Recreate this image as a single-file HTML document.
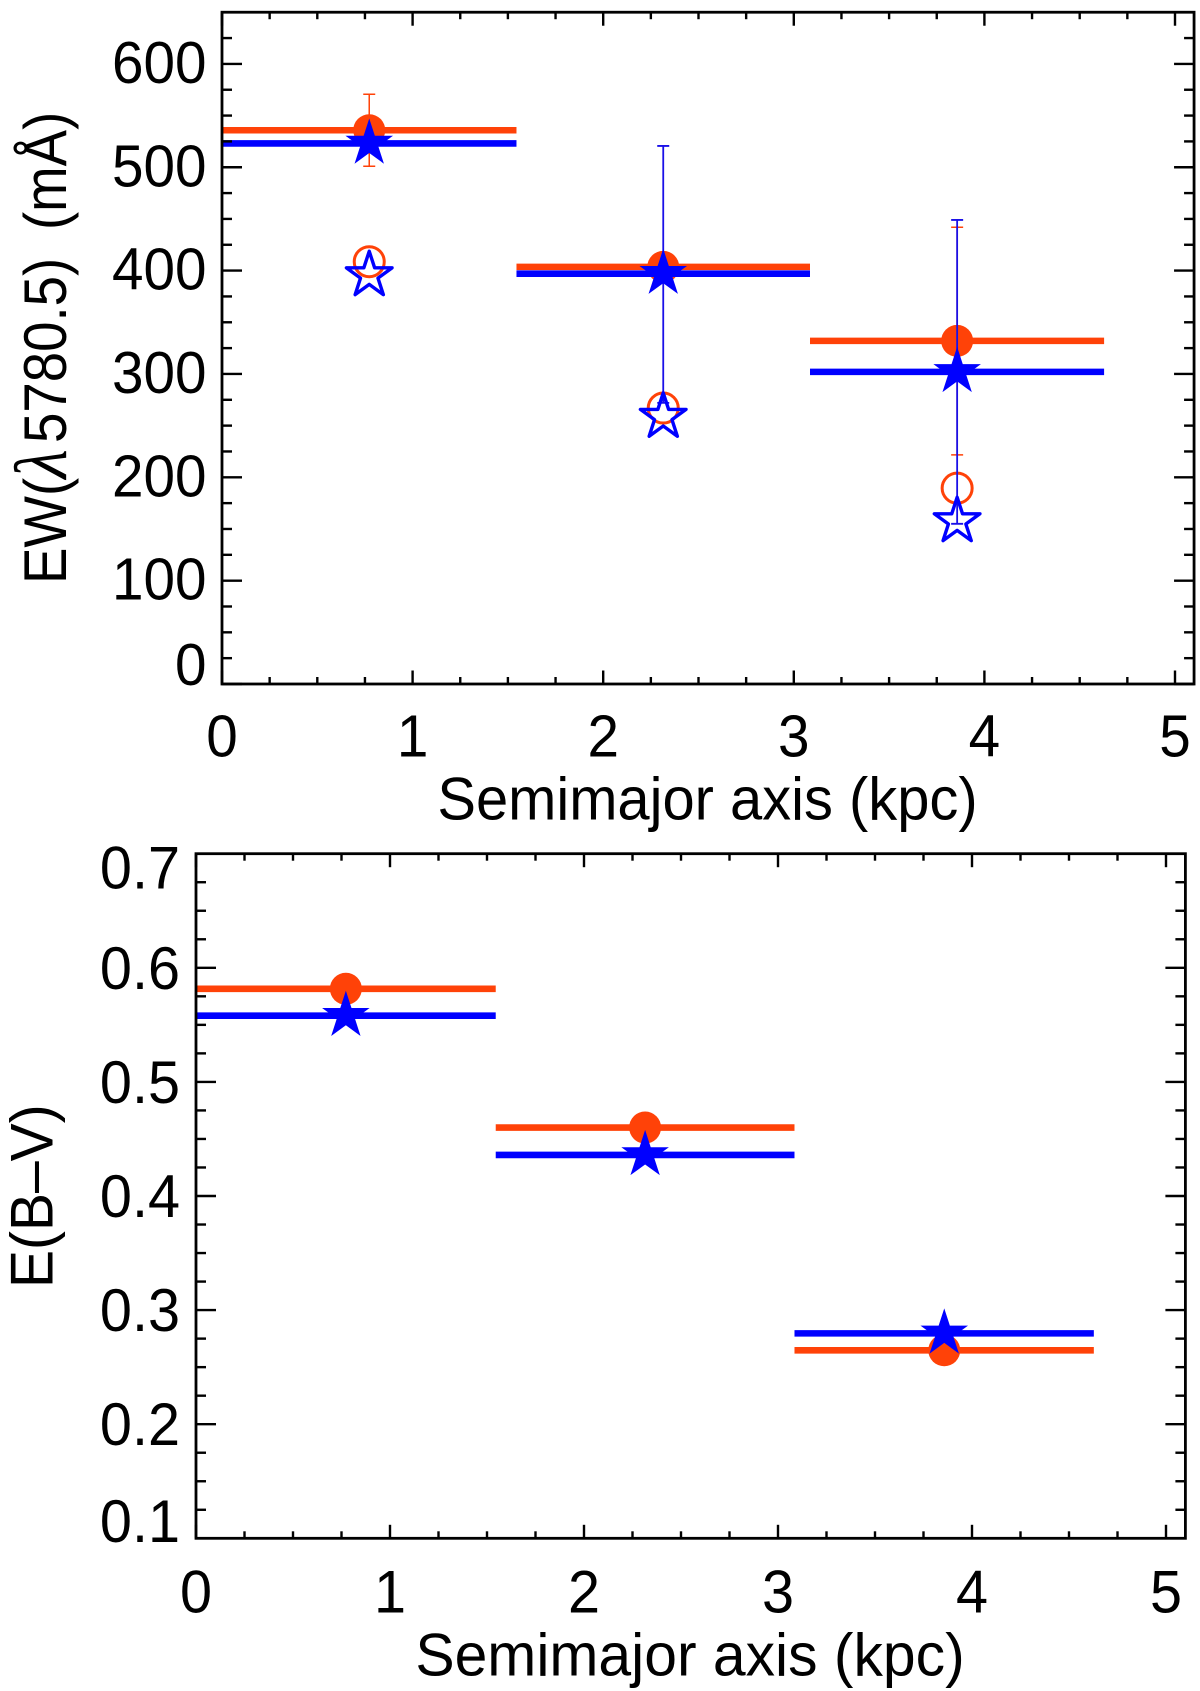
<!DOCTYPE html>
<html lang="en">
<head>
<meta charset="utf-8">
<title>EW and E(B-V) versus semimajor axis</title>
<style>
html,body{margin:0;padding:0;background:#fff;}
svg{display:block;}
text{font-family:"Liberation Sans",Arial,sans-serif;fill:#000;}
</style>
</head>
<body>
<svg id="fig" xmlns="http://www.w3.org/2000/svg" width="1200" height="1691" viewBox="0 0 1200 1691">
  <rect x="0" y="0" width="1200" height="1691" fill="#ffffff"/>
  <g id="top-panel"></g>
  <g id="bottom-panel"></g>
  <text transform="translate(707.5 819.5) scale(.965 1)" font-size="60" text-anchor="middle">Semimajor axis (kpc)</text>
  <text transform="translate(66 584) rotate(-90) scale(.91 1)" font-size="60">EW(<tspan x="116" font-family="Liberation Serif" font-style="italic" font-size="74">λ</tspan><tspan x="155">5780.5)</tspan><tspan x="389">(mÅ)</tspan></text>
  <text transform="translate(690 1675.5) scale(.981 1)" font-size="60" text-anchor="middle">Semimajor axis (kpc)</text>
  <text transform="translate(52.5 1288) rotate(-90) scale(.95 1)" font-size="60">E(B–V)</text>
</svg>
<script>
// Shared x data (kpc)
const binCenters = [0.7725, 2.315, 3.857];
const binLow = [0, 1.545, 3.085];
const binHigh = [1.545, 3.085, 4.628];
const xTickValues = [0, 1, 2, 3, 4, 5];
const xTickLabels = ['0', '1', '2', '3', '4', '5'];

// Upper panel: EW(5780.5) in mA
const ewRedFilled = [535.8, 403.6, 332];
const ewBlueFilled = [523, 397, 302];
const ewRedOpen = [408.6, 267, 189.5];
const ewBlueOpen = [395.5, 258.5, 157.5];
const ewRedErrHigh = [570.6, null, 442];
const ewRedErrLow = [501, null, 221.7];
const ewBlueErrHigh = [null, 520.6, 449];
const ewBlueErrLow = [null, 272, 155];
const ewTickValues = [0, 100, 200, 300, 400, 500, 600];
const ewTickLabels = ['0', '100', '200', '300', '400', '500', '600'];

// Lower panel: E(B-V)
const ebvRedFilled = [0.5816, 0.46, 0.2648];
const ebvBlueFilled = [0.558, 0.436, 0.2796];
const ebvTickValues = [0.1, 0.2, 0.3, 0.4, 0.5, 0.6, 0.7];
const ebvTickLabels = ['0.1', '0.2', '0.3', '0.4', '0.5', '0.6', '0.7'];

const RED = '#ff4208';
const BLUE = '#0000ff';
const SVGNS = 'http://www.w3.org/2000/svg';

function make(parent, tag, attrs) {
  const el = document.createElementNS(SVGNS, tag);
  for (const k in attrs) el.setAttribute(k, attrs[k]);
  parent.appendChild(el);
  return el;
}

function starPoints(cx, cy, R) {
  const r = R * 0.382;
  const pts = [];
  for (let i = 0; i < 10; i++) {
    const a = -Math.PI / 2 + i * Math.PI / 5;
    const rad = i % 2 === 0 ? R : r;
    pts.push((cx + rad * Math.cos(a)).toFixed(2) + ',' + (cy + rad * Math.sin(a)).toFixed(2));
  }
  return pts.join(' ');
}

function drawPanel(p) {
  const g = p.group;
  const sx = v => p.left + (v - p.xMin) * p.xScale;
  const sy = v => p.bottom - (v - p.yMin) * p.yScale;
  const right = sx(p.xMax);
  const top = sy(p.yMax);

  // horizontal bin bars (red), circles, red error bars
  p.red.forEach((v, i) => {
    const bar = make(g, 'line', {x1: sx(binLow[i]), x2: sx(binHigh[i]), y1: sy(v), y2: sy(v), stroke: RED, 'stroke-width': 6.6});
    
    
  });
  p.red.forEach((v, i) => {
    const dot = make(g, 'circle', {cx: sx(binCenters[i]), cy: sy(v), r: 16, fill: RED});
    
    
  });
  (p.redOpen || []).forEach((v, i) => {
    const ring = make(g, 'circle', {cx: sx(binCenters[i]), cy: sy(v), r: 15, fill: 'none', stroke: RED, 'stroke-width': 3});
    
    
  });
  (p.redHigh || []).forEach((hi, i) => {
    if (hi === null) return;
    const x = sx(binCenters[i]);
    const err = make(g, 'path', {
      d: 'M' + (x - 6) + ' ' + sy(hi) + 'H' + (x + 6) + 'M' + x + ' ' + sy(hi) + 'V' + sy(p.redLow[i]) + 'M' + (x - 6) + ' ' + sy(p.redLow[i]) + 'H' + (x + 6),
      fill: 'none', stroke: RED, 'stroke-width': 1.5
    });
    
    
  });

  // blue bars, error bars and stars
  p.blue.forEach((v, i) => {
    const bar = make(g, 'line', {x1: sx(binLow[i]), x2: sx(binHigh[i]), y1: sy(v), y2: sy(v), stroke: BLUE, 'stroke-width': 6.6});
    
    
  });
  (p.blueHigh || []).forEach((hi, i) => {
    if (hi === null) return;
    const x = sx(binCenters[i]);
    const err = make(g, 'path', {
      d: 'M' + (x - 6) + ' ' + sy(hi) + 'H' + (x + 6) + 'M' + x + ' ' + sy(hi) + 'V' + sy(p.blueLow[i]) + 'M' + (x - 6) + ' ' + sy(p.blueLow[i]) + 'H' + (x + 6),
      fill: 'none', stroke: '#1a10e8', 'stroke-width': 1.8
    });
    
    
  });
  p.blue.forEach((v, i) => {
    const star = make(g, 'polygon', {points: starPoints(sx(binCenters[i]), sy(v), 25), fill: BLUE});
    
    
  });
  (p.blueOpen || []).forEach((v, i) => {
    const star = make(g, 'polygon', {points: starPoints(sx(binCenters[i]), sy(v), 24), fill: 'none', stroke: BLUE, 'stroke-width': 3.4, 'stroke-linejoin': 'round'});
    
    
  });

  // x axis ticks, bottom and top
  const nx = Math.round((p.xMax - p.xMin) / 0.25);
  for (let i = 0; i <= nx; i++) {
    const v = p.xMin + i * 0.25;
    const len = i % 4 === 0 ? 13.5 : 7;
    const tb = make(g, 'line', {x1: sx(v), x2: sx(v), y1: p.bottom, y2: p.bottom - len, stroke: '#000', 'stroke-width': 2.4});
    
    
    const tt = make(g, 'line', {x1: sx(v), x2: sx(v), y1: top, y2: top + len, stroke: '#000', 'stroke-width': 2.4});
    
    
  }

  // y axis ticks, left and right
  const ny = Math.round((p.yMax - p.yMin) / p.yMinor);
  for (let i = 0; i <= ny; i++) {
    const v = p.yMin + i * p.yMinor;
    const len = i % 4 === 0 ? 20 : 10;
    const tl = make(g, 'line', {x1: p.left, x2: p.left + len, y1: sy(v), y2: sy(v), stroke: '#000', 'stroke-width': 2.4});
    
    
    const tr = make(g, 'line', {x1: right, x2: right - len, y1: sy(v), y2: sy(v), stroke: '#000', 'stroke-width': 2.4});
    
    
  }

  // frame
  const frame = make(g, 'rect', {x: p.left, y: top, width: right - p.left, height: p.bottom - top, fill: 'none', stroke: '#000', 'stroke-width': 2.8});
  
  

  // tick labels (slightly tall, narrow glyphs like the original)
  xTickValues.forEach((v, i) => {
    const t = make(g, 'text', {transform: 'translate(' + sx(v) + ' ' + p.xLabelBase + ') scale(.96 1)', 'font-size': p.fontSize, 'text-anchor': 'middle'});
    t.textContent = xTickLabels[i];
    
    
  });
  p.yTicks.forEach((v, i) => {
    let shift = p.labelShift;
    if (v === p.yMin) shift = p.minShift;
    if (v === p.yMax) shift = p.maxShift;
    const t = make(g, 'text', {transform: 'translate(' + p.yLabelRight + ' ' + (sy(v) + shift + 21) + ') scale(.96 1)', 'font-size': p.fontSize, 'text-anchor': 'end'});
    t.textContent = p.yLabels[i];
    
    
  });
}

drawPanel({
  group: document.getElementById('top-panel'),
  left: 222, bottom: 684, xScale: 190.6, yScale: 1.0335,
  xMin: 0, xMax: 5.1, yMin: 0, yMax: 650, yMinor: 25,
  red: ewRedFilled, blue: ewBlueFilled,
  redOpen: ewRedOpen, blueOpen: ewBlueOpen,
  redHigh: ewRedErrHigh, redLow: ewRedErrLow,
  blueHigh: ewBlueErrHigh, blueLow: ewBlueErrLow,
  yTicks: ewTickValues, yLabels: ewTickLabels,
  fontSize: 59, xLabelBase: 756.5, yLabelRight: 206.5, labelShift: -2, minShift: -20, maxShift: 0
});

drawPanel({
  group: document.getElementById('bottom-panel'),
  left: 196, bottom: 1538.3, xScale: 194, yScale: 1141,
  xMin: 0, xMax: 5.1, yMin: 0.1, yMax: 0.7, yMinor: 0.025,
  red: ebvRedFilled, blue: ebvBlueFilled,
  yTicks: ebvTickValues, yLabels: ebvTickLabels,
  fontSize: 60, xLabelBase: 1612.5, yLabelRight: 180, labelShift: 0, minShift: -17.5, maxShift: 14
});
</script>
</body>
</html>
